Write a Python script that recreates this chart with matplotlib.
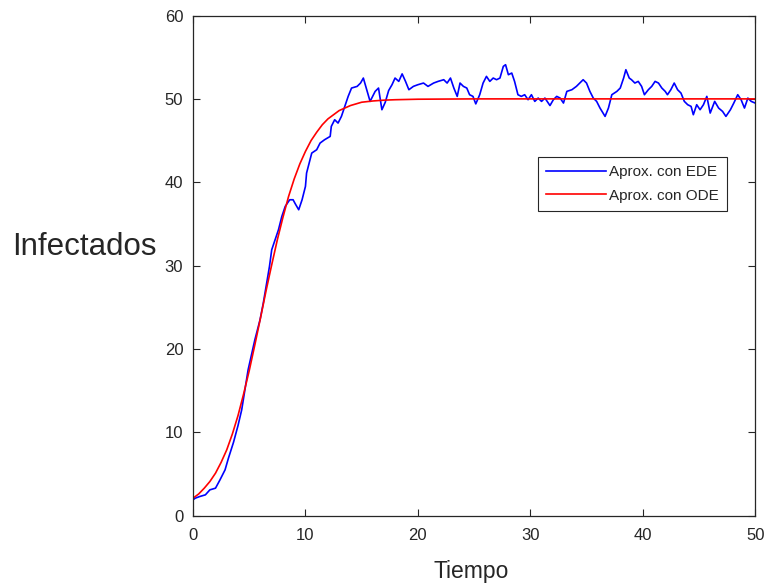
import numpy as np
from matplotlib import pyplot as plt

plt.rcParams['font.family'] = ['Liberation Sans', 'DejaVu Sans']

# ODE solution
t_ode = [0, 0.5, 1, 1.5, 2, 2.5, 3, 3.5, 4, 4.5, 5, 5.5, 6, 6.5, 7, 7.5, 8, 8.5,
         9, 9.5, 10, 10.5, 11, 11.5, 12, 12.5, 13, 13.5, 14, 14.5, 15, 16, 17,
         18, 20, 25, 30, 40, 50]
ode = [2.1, 2.6, 3.3, 4.1, 5.1, 6.4, 7.9, 9.8, 12.0, 14.6, 17.4, 20.5, 23.7,
       27.0, 30.1, 33.1, 35.8, 38.3, 40.4, 42.2, 43.7, 45.0, 46.0, 46.9, 47.6,
       48.1, 48.6, 48.9, 49.2, 49.4, 49.6, 49.75, 49.85, 49.9, 49.96, 50.0,
       50.0, 50.0, 50.0]

# SDE path
t_ede = [0, 0.2, 0.6, 1.1, 1.5, 2.0, 2.4, 2.85, 3.15, 3.6, 4.0, 4.33, 4.9, 5.5,
         5.96, 6.25, 6.5, 6.8, 7.0, 7.3, 7.6, 7.9, 8.2, 8.6, 8.9, 9.1, 9.4, 9.7,
         10.0, 10.1, 10.56, 11.0, 11.3, 11.7, 12.2, 12.3, 12.6, 12.9, 13.2,
         13.5, 13.8, 14.1, 14.6, 14.9, 15.15, 15.45, 15.75, 16.2, 16.5, 16.8,
         17.1, 17.4, 17.7, 17.97, 18.3, 18.6, 18.9, 19.2, 19.6, 20.0, 20.5,
         20.9, 21.4, 21.8, 22.3, 22.6, 22.9, 23.2, 23.5, 23.75, 24.05, 24.35,
         24.6, 24.9, 25.15, 25.5, 25.8, 26.1, 26.4, 26.7, 27.0, 27.3, 27.6,
         27.8, 28.05, 28.35, 28.6, 28.9, 29.2, 29.5, 29.8, 30.1, 30.4, 30.7,
         31.0, 31.3, 31.75, 32.05, 32.35, 32.65, 32.95, 33.25, 33.7, 34.1,
         34.4, 34.7, 35.0, 35.3, 35.6, 35.9, 36.2, 36.65, 36.95, 37.25, 37.7,
         38.0, 38.3, 38.5, 38.8, 39.0, 39.3, 39.6, 39.9, 40.15, 40.5, 40.8,
         41.1, 41.4, 41.7, 42.0, 42.2, 42.5, 42.8, 43.1, 43.4, 43.7, 44.0,
         44.3, 44.5, 44.8, 45.1, 45.4, 45.7, 46.0, 46.4, 46.75, 47.1, 47.4,
         47.8, 48.1, 48.45, 48.75, 49.05, 49.35, 49.65, 50.0]
ede = [1.9, 2.1, 2.3, 2.5, 3.1, 3.3, 4.3, 5.5, 6.9, 8.8, 10.8, 12.7, 17.5, 21.1,
       23.5, 25.5, 27.5, 29.9, 31.9, 33.1, 34.3, 35.9, 37.1, 37.9, 37.9, 37.4,
       36.7, 37.9, 39.5, 41.1, 43.5, 43.9, 44.7, 45.1, 45.5, 46.7, 47.5, 47.1,
       47.9, 49.1, 50.3, 51.3, 51.5, 51.9, 52.5, 51.1, 49.7, 50.9, 51.3, 48.7,
       49.6, 51.0, 51.7, 52.5, 52.1, 53.0, 52.1, 51.1, 51.5, 51.7, 51.9, 51.5,
       51.9, 52.1, 52.3, 51.9, 52.5, 51.3, 50.3, 51.9, 51.5, 51.3, 50.5, 50.3,
       49.4, 50.5, 51.9, 52.7, 52.1, 52.5, 52.3, 52.5, 53.9, 54.1, 52.9, 53.1,
       52.1, 50.5, 50.3, 50.5, 49.9, 50.5, 49.7, 50.1, 49.7, 50.1, 49.2, 49.9,
       50.3, 50.1, 49.5, 50.9, 51.1, 51.5, 51.9, 52.3, 51.9, 50.9, 50.1, 49.7,
       48.9, 47.9, 48.9, 50.5, 50.9, 51.3, 52.5, 53.5, 52.5, 52.3, 51.9, 52.1,
       51.5, 50.5, 51.1, 51.5, 52.1, 51.9, 51.3, 50.9, 50.5, 51.1, 51.9, 51.1,
       50.7, 49.7, 49.3, 49.1, 48.1, 49.3, 48.7, 49.3, 50.3, 48.3, 49.7, 48.9,
       48.5, 47.9, 48.7, 49.5, 50.5, 49.9, 48.9, 50.1, 49.7, 49.5]

fig = plt.figure(figsize=(7.69, 5.86), dpi=100)
ax = fig.add_axes([0.251, 0.12, 0.731, 0.8535])

ax.plot(t_ede, ede, color='#0000ff', lw=1.2, label='Aprox. con EDE')
ax.plot(t_ode, ode, color='#ff0000', lw=1.2, label='Aprox. con ODE')

ax.set_xlim(0, 50)
ax.set_ylim(0, 60)
ax.set_xticks([0, 10, 20, 30, 40, 50])
ax.set_yticks([0, 10, 20, 30, 40, 50, 60])

dark = '#262626'
for s in ax.spines.values():
    s.set_color(dark)
    s.set_linewidth(0.9)
ax.tick_params(direction='in', length=5, width=0.8, colors=dark, labelsize=12,
               top=True, right=True)
ax.tick_params(axis='x', pad=9)
ax.tick_params(axis='y', pad=7)

ax.set_xlabel('Tiempo', fontsize=16.5, color=dark, va='center')
ax.xaxis.set_label_coords(0.495, -0.111)
ax.set_ylabel('Infectados', fontsize=22.5, color=dark, rotation=0,
              ha='right', va='center')
ax.yaxis.set_label_coords(-0.064, 0.537)

leg = ax.legend(loc='upper right', bbox_to_anchor=(0.95, 0.717), borderaxespad=0,
                fontsize=11, handlelength=3.9, handletextpad=0.2,
                fancybox=False, framealpha=1, borderpad=0.55, labelspacing=0.6)
leg.get_frame().set_edgecolor(dark)
leg.get_frame().set_linewidth(0.8)
for txt in leg.get_texts():
    txt.set_color(dark)

fig.savefig('out.png', dpi=100)
